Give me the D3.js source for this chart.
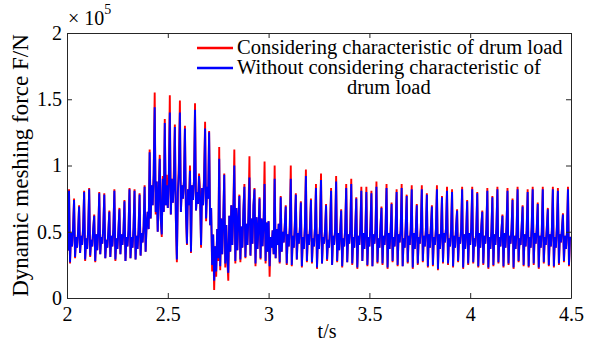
<!DOCTYPE html>
<html>
<head>
<meta charset="utf-8">
<script src="https://cdn.jsdelivr.net/npm/d3@7/dist/d3.min.js"></script>
<style>
  body { margin: 0; background: #fff; }
</style>
</head>
<body>
<div id="chart"></div>
<script>
// Data (force in units of 1e4 N, sampled every 0.005 s from t = 2 s, one row per 0.1 s)
const tStart = 2;
const tStep = 0.005;

const forceRed = [
  [4.2, 3.6, 8.2, 2.6, 4.9, 3.9, 5.2, 7.5, 3.0, 4.6, 3.8, 5.0, 7.0, 3.4, 4.7, 4.0, 5.3, 8.1, 2.8, 4.5],
  [3.7, 5.1, 8.3, 3.1, 4.4, 3.9, 5.2, 6.3, 2.7, 4.8, 3.6, 5.0, 8.0, 3.3, 4.6, 4.1, 5.3, 7.9, 3.0, 4.4],
  [3.8, 5.0, 6.6, 3.1, 4.7, 3.9, 5.2, 8.2, 2.8, 4.5, 3.7, 5.1, 6.8, 3.3, 4.8, 4.0, 5.0, 7.4, 2.8, 4.6],
  [3.9, 5.1, 8.3, 3.0, 4.6, 3.8, 5.3, 8.2, 2.9, 4.7, 3.7, 5.2, 7.9, 3.2, 4.9, 4.2, 5.4, 8.5, 3.5, 5.6],
  [6.5, 5.2, 11.2, 6.0, 8.5, 7.0, 9.5, 15.5, 6.3, 8.8, 5.0, 8.2, 10.8, 6.0, 4.6, 9.2, 6.5, 13.5, 7.0, 9.3],
  [6.8, 8.9, 15.3, 6.3, 9.0, 7.2, 9.6, 13.1, 5.8, 2.7, 8.0, 10.2, 14.9, 6.5, 8.5, 7.5, 8.8, 13.0, 6.3, 4.0],
  [8.2, 7.0, 10.0, 3.4, 8.5, 7.4, 8.9, 14.7, 6.6, 8.0, 7.1, 9.4, 8.0, 3.8, 8.3, 7.0, 9.3, 13.3, 5.8, 8.4],
  [7.5, 12.6, 5.5, 6.8, 2.0, 4.8, 0.6, 3.9, 1.6, 5.2, 2.8, 11.4, 2.1, 6.0, 3.3, 5.8, 9.4, 2.3, 5.5, 3.0],
  [1.3, 6.2, 3.5, 7.0, 4.0, 6.5, 11.2, 2.6, 6.8, 3.6, 5.9, 7.8, 2.7, 5.4, 3.8, 6.6, 8.6, 3.0, 5.6, 4.0],
  [6.2, 10.7, 3.2, 6.0, 4.1, 7.0, 8.3, 2.4, 6.1, 3.7, 5.4, 7.6, 2.9, 6.0, 3.9, 5.6, 10.3, 2.6, 5.7, 3.5],
  [5.8, 1.6, 4.6, 3.8, 5.1, 3.3, 10.0, 3.0, 5.2, 4.0, 5.6, 2.6, 7.7, 3.5, 5.0, 4.2, 5.4, 7.0, 2.5, 4.8],
  [3.9, 5.3, 10.0, 2.4, 4.7, 3.8, 5.5, 7.9, 2.9, 4.9, 4.1, 5.2, 7.3, 2.3, 4.6, 3.7, 5.4, 9.7, 2.7, 4.8],
  [4.0, 5.2, 7.5, 2.6, 4.5, 3.9, 5.3, 8.6, 2.2, 4.8, 3.7, 5.5, 9.4, 2.6, 4.6, 4.1, 5.1, 7.1, 2.8, 4.4],
  [3.8, 5.4, 8.3, 2.5, 4.7, 4.0, 5.2, 9.2, 2.7, 4.9, 3.6, 5.0, 6.7, 2.3, 4.5, 3.9, 5.3, 8.6, 2.7, 4.8],
  [4.1, 5.1, 9.0, 2.5, 4.6, 3.8, 5.4, 7.6, 2.2, 4.7, 4.0, 5.2, 8.4, 2.8, 4.9, 3.7, 5.0, 8.4, 2.4, 4.6],
  [3.9, 5.3, 8.1, 2.4, 4.8, 4.1, 5.1, 8.8, 2.6, 4.5, 3.8, 5.4, 6.9, 2.5, 4.7, 4.0, 5.2, 8.6, 2.2, 4.9],
  [3.7, 5.0, 7.2, 2.7, 4.6, 3.9, 5.3, 8.2, 2.4, 4.8, 4.2, 5.1, 8.6, 2.4, 4.5, 3.8, 5.4, 7.8, 2.6, 4.7],
  [4.0, 5.2, 8.5, 2.2, 4.9, 3.7, 5.0, 7.1, 2.5, 4.6, 4.1, 5.3, 8.5, 2.7, 4.7, 3.9, 5.1, 7.9, 2.3, 4.8],
  [3.8, 5.4, 7.0, 2.4, 4.6, 4.0, 5.2, 8.5, 2.1, 4.8, 3.7, 5.0, 7.7, 2.6, 4.9, 4.2, 5.3, 8.4, 2.5, 4.5],
  [3.9, 5.1, 8.2, 2.3, 4.7, 3.8, 5.4, 6.7, 2.7, 4.6, 4.1, 5.2, 8.4, 2.2, 4.8, 3.7, 5.0, 7.4, 2.5, 4.9],
  [4.0, 5.3, 8.4, 2.6, 4.5, 3.9, 5.1, 8.0, 2.3, 4.9, 3.8, 5.4, 6.6, 2.5, 4.7, 4.1, 5.2, 8.3, 2.2, 4.6],
  [3.7, 5.0, 7.7, 2.4, 4.8, 4.0, 5.3, 8.4, 2.6, 4.6, 3.9, 5.1, 6.3, 2.3, 4.9, 3.8, 5.4, 8.3, 2.5, 4.7],
  [4.1, 5.2, 7.5, 2.2, 4.7, 3.7, 5.0, 8.4, 2.7, 4.5, 4.0, 5.3, 7.0, 2.4, 4.8, 3.9, 5.1, 8.2, 2.3, 4.6],
  [3.8, 5.4, 8.4, 2.5, 4.9, 4.1, 5.2, 7.2, 2.2, 4.7, 3.8, 5.0, 8.4, 2.6, 4.6, 4.0, 5.3, 6.8, 2.4, 4.8],
  [3.9, 5.1, 8.4, 2.3, 4.6, 3.8, 5.4, 8.3, 2.5, 4.8, 4.2, 5.2, 6.4, 2.7, 4.7, 3.7, 5.0, 8.4, 2.4, 4.6, 4.4]
];

const forceBlue = [
  [4.2, 3.6, 8.1, 2.7, 4.9, 3.9, 5.2, 7.4, 3.1, 4.6, 3.8, 5.0, 6.9, 3.4, 4.7, 4.0, 5.3, 8.0, 2.9, 4.5],
  [3.7, 5.1, 8.2, 3.2, 4.4, 3.9, 5.2, 6.2, 2.8, 4.8, 3.6, 5.0, 7.9, 3.3, 4.6, 4.1, 5.3, 7.8, 3.0, 4.4],
  [3.8, 5.0, 6.5, 3.1, 4.7, 3.9, 5.2, 8.1, 2.9, 4.5, 3.7, 5.1, 6.7, 3.3, 4.8, 4.0, 5.0, 7.3, 2.8, 4.6],
  [3.9, 5.1, 8.2, 3.0, 4.6, 3.8, 5.3, 8.1, 2.9, 4.7, 3.7, 5.2, 7.8, 3.2, 4.9, 4.2, 5.4, 8.4, 3.5, 5.6],
  [6.5, 5.2, 11.0, 6.0, 8.5, 7.0, 9.3, 14.4, 6.5, 8.8, 5.0, 8.0, 10.5, 6.0, 4.8, 9.0, 6.5, 13.2, 7.0, 8.5],
  [6.8, 8.9, 14.0, 6.3, 9.0, 7.2, 8.4, 12.9, 6.0, 2.9, 8.0, 9.4, 14.0, 6.5, 8.5, 7.5, 8.8, 12.8, 6.5, 4.1],
  [8.2, 7.0, 9.6, 3.5, 8.5, 7.4, 8.9, 14.2, 6.6, 8.0, 7.1, 9.2, 7.5, 4.0, 8.3, 7.0, 9.0, 12.8, 6.0, 8.4],
  [7.5, 12.5, 5.5, 6.8, 2.5, 4.8, 1.3, 3.9, 2.0, 5.2, 3.0, 10.5, 2.4, 6.0, 3.3, 5.8, 9.3, 2.6, 5.5, 3.0],
  [1.9, 6.2, 3.5, 7.0, 4.0, 6.5, 10.0, 2.8, 6.8, 3.6, 5.9, 7.7, 2.9, 5.4, 3.8, 6.6, 8.4, 3.1, 5.6, 4.0],
  [6.2, 9.1, 3.2, 6.0, 4.1, 7.0, 8.2, 2.6, 6.1, 3.7, 5.4, 7.5, 3.0, 6.0, 3.9, 5.6, 8.6, 2.8, 5.7, 3.5],
  [5.8, 2.4, 4.6, 3.8, 5.1, 3.3, 9.0, 3.0, 5.2, 4.0, 5.6, 2.7, 7.6, 3.5, 5.0, 4.2, 5.4, 6.9, 2.6, 4.8],
  [3.9, 5.3, 9.0, 2.5, 4.7, 3.8, 5.5, 7.8, 2.9, 4.9, 4.1, 5.2, 7.2, 2.4, 4.6, 3.7, 5.4, 9.2, 2.8, 4.8],
  [4.0, 5.2, 7.4, 2.7, 4.5, 3.9, 5.3, 8.3, 2.3, 4.8, 3.7, 5.5, 8.9, 2.6, 4.6, 4.1, 5.1, 7.0, 2.9, 4.4],
  [3.8, 5.4, 8.1, 2.5, 4.7, 4.0, 5.2, 8.8, 2.8, 4.9, 3.6, 5.0, 6.6, 2.4, 4.5, 3.9, 5.3, 8.3, 2.7, 4.8],
  [4.1, 5.1, 8.6, 2.6, 4.6, 3.8, 5.4, 7.5, 2.3, 4.7, 4.0, 5.2, 8.1, 2.8, 4.9, 3.7, 5.0, 8.0, 2.5, 4.6],
  [3.9, 5.3, 7.9, 2.4, 4.8, 4.1, 5.1, 8.4, 2.7, 4.5, 3.8, 5.4, 6.8, 2.6, 4.7, 4.0, 5.2, 8.3, 2.3, 4.9],
  [3.7, 5.0, 7.1, 2.8, 4.6, 3.9, 5.3, 8.0, 2.5, 4.8, 4.2, 5.1, 8.3, 2.4, 4.5, 3.8, 5.4, 7.7, 2.7, 4.7],
  [4.0, 5.2, 8.2, 2.3, 4.9, 3.7, 5.0, 7.0, 2.6, 4.6, 4.1, 5.3, 8.2, 2.8, 4.7, 3.9, 5.1, 7.8, 2.4, 4.8],
  [3.8, 5.4, 6.9, 2.5, 4.6, 4.0, 5.2, 8.2, 2.2, 4.8, 3.7, 5.0, 7.6, 2.7, 4.9, 4.2, 5.3, 8.1, 2.6, 4.5],
  [3.9, 5.1, 8.0, 2.4, 4.7, 3.8, 5.4, 6.6, 2.8, 4.6, 4.1, 5.2, 8.2, 2.3, 4.8, 3.7, 5.0, 7.3, 2.6, 4.9],
  [4.0, 5.3, 8.2, 2.7, 4.5, 3.9, 5.1, 7.9, 2.4, 4.9, 3.8, 5.4, 6.5, 2.6, 4.7, 4.1, 5.2, 8.1, 2.3, 4.6],
  [3.7, 5.0, 7.6, 2.5, 4.8, 4.0, 5.3, 8.2, 2.7, 4.6, 3.9, 5.1, 6.2, 2.4, 4.9, 3.8, 5.4, 8.1, 2.6, 4.7],
  [4.1, 5.2, 7.4, 2.3, 4.7, 3.7, 5.0, 8.2, 2.8, 4.5, 4.0, 5.3, 6.9, 2.5, 4.8, 3.9, 5.1, 8.0, 2.4, 4.6],
  [3.8, 5.4, 8.2, 2.6, 4.9, 4.1, 5.2, 7.1, 2.3, 4.7, 3.8, 5.0, 8.2, 2.7, 4.6, 4.0, 5.3, 6.7, 2.5, 4.8],
  [3.9, 5.1, 8.2, 2.4, 4.6, 3.8, 5.4, 8.1, 2.6, 4.8, 4.2, 5.2, 6.3, 2.8, 4.7, 3.7, 5.0, 8.2, 2.5, 4.6, 4.4]
];

const xTicks = [2, 2.5, 3, 3.5, 4, 4.5];
const yTicks = [0, 0.5, 1, 1.5, 2];   // x 1e5
const seriesNames = [
  "Considering characteristic of drum load",
  "Without considering characteristic of"
];
const seriesColors = ["#ff0000", "#0000ff"];
const serif = "Liberation Serif";

// Dimensions
const W = 589, H = 341;
const margin = { top: 33, right: 18, bottom: 43, left: 67 };
const width = W - margin.left - margin.right;
const height = H - margin.top - margin.bottom;

const svg = d3.select("#chart")
  .append("svg")
  .attr("width", W)
  .attr("height", H);

const g = svg.append("g")
  .attr("transform", `translate(${margin.left},${margin.top})`);

// Scales
const x = d3.scaleLinear().domain([2, 4.5]).range([0, width]);
const y = d3.scaleLinear().domain([0, 2]).range([height, 0]);

// Series -> points
function toPoints(rows) {
  return rows.flat().map((v, i) => ({ t: tStart + i * tStep, f: v / 10 }));
}
const redPts = toPoints(forceRed);
const bluePts = toPoints(forceBlue);

g.append("clipPath").attr("id", "clip")
  .append("rect").attr("width", width).attr("height", height);

const line = d3.line().x(d => x(d.t)).y(d => y(d.f));

const plot = g.append("g").attr("clip-path", "url(#clip)");
plot.append("path").datum(redPts)
  .attr("d", line).attr("fill", "none")
  .attr("stroke", seriesColors[0]).attr("stroke-width", 1.9);
plot.append("path").datum(bluePts)
  .attr("d", line).attr("fill", "none")
  .attr("stroke", seriesColors[1]).attr("stroke-width", 1.9);

// Axes (ticks inward, box all round)
const axisColor = "#262626";
function styleAxis(sel) {
  sel.selectAll("path, line").attr("stroke", axisColor);
  sel.selectAll("text")
    .style("font-family", serif)
    .style("font-size", "20px")
    .attr("fill", "#000");
}

g.append("g")
  .attr("transform", `translate(0,${height})`)
  .call(d3.axisBottom(x).tickValues(xTicks).tickSize(-5).tickSizeOuter(0)
    .tickPadding(9).tickFormat(d3.format("")))
  .call(styleAxis);

g.append("g")
  .call(d3.axisTop(x).tickValues(xTicks).tickSize(-5).tickSizeOuter(0).tickFormat(""))
  .call(styleAxis);

g.append("g")
  .call(d3.axisLeft(y).tickValues(yTicks).tickSize(-5).tickSizeOuter(0)
    .tickPadding(5).tickFormat(d3.format("")))
  .call(styleAxis);

g.append("g")
  .attr("transform", `translate(${width},0)`)
  .call(d3.axisRight(y).tickValues(yTicks).tickSize(-5).tickSizeOuter(0).tickFormat(""))
  .call(styleAxis);

// Exponent label
const expo = g.append("text").attr("x", 1).attr("y", -8)
  .style("font-family", serif).style("font-size", "20px");
expo.append("tspan").text("\u00d7 10");
expo.append("tspan").attr("dy", -11).style("font-size", "14px").text("5");

// Axis titles
g.append("text")
  .attr("x", x(3.29))
  .attr("y", height + 40)
  .attr("text-anchor", "middle")
  .style("font-family", serif)
  .style("font-size", "20px")
  .text("t/s");

g.append("text")
  .attr("transform", "rotate(-90)")
  .attr("x", -height / 2)
  .attr("y", -39)
  .attr("text-anchor", "middle")
  .style("font-family", serif)
  .style("font-size", "23px")
  .text("Dynamic meshing force F/N");

// Legend
const legendGap = 20;
const legend = g.append("g").attr("transform", `translate(${197 - margin.left},${48 - margin.top})`);
seriesNames.forEach((name, i) => {
  legend.append("line")
    .attr("x1", 0).attr("x2", 36)
    .attr("y1", i * legendGap).attr("y2", i * legendGap)
    .attr("stroke", seriesColors[i]).attr("stroke-width", 2.5);
  legend.append("text")
    .attr("x", 40).attr("y", i * legendGap + 6)
    .style("font-family", serif)
    .style("font-size", "20.5px")
    .text(name);
});
legend.append("text")
  .attr("x", 150).attr("y", 2 * legendGap + 6)
  .style("font-family", serif)
  .style("font-size", "20.5px")
  .text("drum load");
</script>
</body>
</html>
